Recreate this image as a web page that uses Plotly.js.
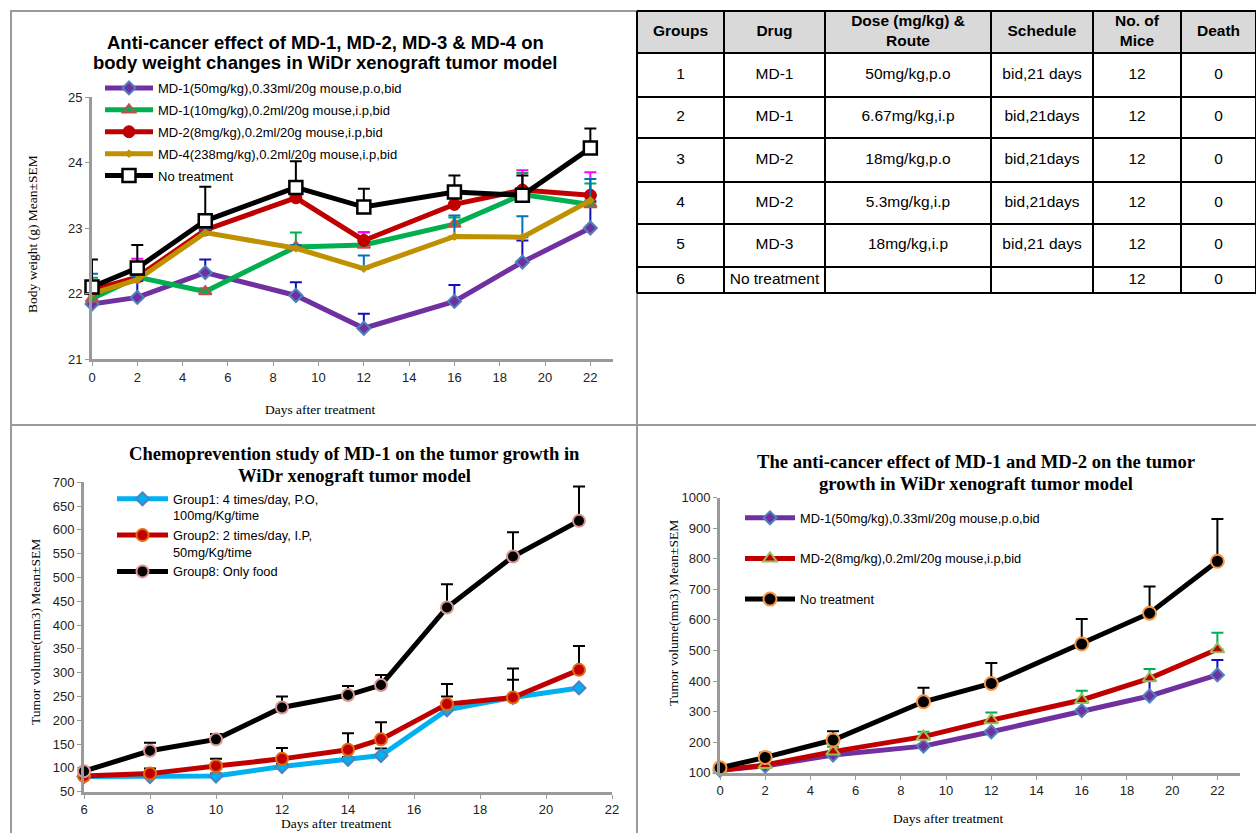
<!DOCTYPE html>
<html>
<head>
<meta charset="utf-8">
<script src="https://cdn.plot.ly/plotly-3.0.1.min.js"></script>
<style>html,body{margin:0;padding:0;background:#fff;}#chart{width:1256px;height:833px;}</style>
</head>
<body>
<div id="chart"></div>
<script>
// ---------- Data: body weight (top-left) ----------
const bwDays = [0, 2, 5, 9, 12, 16, 19, 22];
const bwNames = [
  'MD-1(50mg/kg),0.33ml/20g mouse,p.o,bid',
  'MD-1(10mg/kg),0.2ml/20g mouse,i.p,bid',
  'MD-2(8mg/kg),0.2ml/20g mouse,i.p,bid',
  'MD-4(238mg/kg),0.2ml/20g mouse,i.p,bid',
  'No treatment'
];
const bwMD1_50 = [21.84, 21.94, 22.32, 21.97, 21.47, 21.88, 22.48, 23.0];
const bwMD1_50Sem = [0.15, 0.25, 0.2, 0.2, 0.22, 0.25, 0.33, 0.4];
const bwMD1_10 = [21.92, 22.25, 22.03, 22.71, 22.74, 23.06, 23.51, 23.36];
const bwMD1_10Sem = [0.32, 0.05, 0.05, 0.22, 0.2, 0.1, 0.33, 0.32];
const bwMD2 = [22.05, 22.25, 22.97, 23.46, 22.81, 23.36, 23.58, 23.5];
const bwMD2Sem = [0.1, 0.28, 0.1, 0.1, 0.12, 0.15, 0.3, 0.35];
const bwMD4 = [22.0, 22.21, 22.93, 22.69, 22.38, 22.87, 22.86, 23.42];
const bwMD4Sem = [0.3, 0.05, 0.05, 0.05, 0.2, 0.32, 0.32, 0.33];
const bwNone = [22.1, 22.39, 23.11, 23.62, 23.32, 23.55, 23.5, 24.22];
const bwNoneSem = [0.42, 0.35, 0.52, 0.4, 0.28, 0.25, 0.3, 0.3];
const bwTitle = ['Anti-cancer effect of MD-1, MD-2, MD-3 & MD-4 on', 'body weight changes in WiDr xenograft tumor model'];

// ---------- Data: chemoprevention (bottom-left) ----------
const cpDays = [6, 8, 10, 12, 14, 15, 17, 19, 21];
const cpNames = ['Group1: 4 times/day, P.O,<br>100mg/Kg/time', 'Group2: 2 times/day, I.P,<br>50mg/Kg/time', 'Group8: Only food'];
const cpGroup1 = [82, 82, 83, 103, 118, 126, 222, 248, 268];
const cpGroup1Sem = [0, 0, 5, 5, 5, 15, 28, 37, 0];
const cpGroup2 = [83, 88, 104, 119, 138, 160, 234, 248, 306];
const cpGroup2Sem = [0, 11, 15, 23, 35, 36, 42, 61, 50];
const cpGroup8 = [93, 136, 160, 227, 253, 274, 437, 544, 619];
const cpGroup8Sem = [0, 17, 11, 23, 19, 21, 49, 51, 72];
const cpTitle = ['Chemoprevention study of MD-1 on the tumor growth in', 'WiDr xenograft tumor model'];

// ---------- Data: tumor growth (bottom-right) ----------
const tgDays = [0, 2, 5, 9, 12, 16, 19, 22];
const tgNames = ['MD-1(50mg/kg),0.33ml/20g mouse,p.o,bid', 'MD-2(8mg/kg),0.2ml/20g mouse,i.p,bid', 'No treatment'];
const tgMD1 = [108, 122, 158, 187, 234, 303, 351, 420];
const tgMD1Sem = [0, 0, 5, 5, 5, 5, 52, 49];
const tgMD2 = [108, 125, 169, 218, 272, 338, 409, 504];
const tgMD2Sem = [0, 5, 16, 16, 25, 30, 30, 54];
const tgNone = [116, 150, 207, 332, 392, 521, 622, 792];
const tgNoneSem = [0, 15, 29, 46, 67, 82, 87, 138];
const tgTitle = ['The anti-cancer effect of MD-1 and MD-2 on the tumor', 'growth in WiDr xenograft tumor model'];

const axisTitles = {
  days: 'Days after treatment',
  bodyWeight: 'Body weight (g) Mean±SEM',
  tumor: 'Tumor volume(mm3) Mean±SEM'
};

// ---------- Data: table (top-right) ----------
const tableHeaders = ['Groups', 'Drug', 'Dose (mg/kg) &<br>Route', 'Schedule', 'No. of<br>Mice', 'Death'];
const colGroups = ['1', '2', '3', '4', '5', '6'];
const colDrug = ['MD-1', 'MD-1', 'MD-2', 'MD-2', 'MD-3', 'No treatment'];
const colDose = ['50mg/kg,p.o', '6.67mg/kg,i.p', '18mg/kg,p.o', '5.3mg/kg,i.p', '18mg/kg,i.p', ''];
const colSchedule = ['bid,21 days', 'bid,21days', 'bid,21days', 'bid,21days', 'bid,21 days', ''];
const colMice = ['12', '12', '12', '12', '12', '12'];
const colDeath = ['0', '0', '0', '0', '0', '0'];

// ---------- layout helpers ----------
const W = 1256, H = 833;
const px = v => v / W;
const py = v => 1 - v / H;
const SANS = 'Arial, "Liberation Sans", sans-serif';
const SERIF = '"Times New Roman", "Liberation Serif", serif';

// table geometry (layout, in table-axis units = page pixels)
const tColEdges = [637, 724, 825, 991, 1093, 1181, 1256];
const tRowEdges = [11, 53, 97, 138, 182, 224, 267, 293];

function series(x, y, sem, name, xa, ya, lg, grp, lineColor, marker, errColor) {
  return {
    type: 'scatter', mode: 'lines+markers', x: x, y: y, name: name,
    xaxis: xa, yaxis: ya, legend: lg, legendgroup: grp,
    line: {color: lineColor, width: 5},
    marker: marker,
    error_y: {type: 'data', symmetric: false, array: sem, arrayminus: sem.map(() => 0),
              color: errColor, thickness: 2, width: 6},
    cliponaxis: false
  };
}

const traces = [
  series(bwDays, bwMD1_50, bwMD1_50Sem, bwNames[0], 'x', 'y', 'legend', 'a1', '#7030a0',
    {symbol: 'diamond', size: 10, color: '#7030a0', line: {color: '#4f81bd', width: 2}}, '#1010c0'),
  series(bwDays, bwMD1_10, bwMD1_10Sem, bwNames[1], 'x', 'y', 'legend', 'a2', '#00b050',
    {symbol: 'triangle-up', size: 11, color: '#00b050', line: {color: '#c0504d', width: 2}}, '#00b050'),
  series(bwDays, bwMD2, bwMD2Sem, bwNames[2], 'x', 'y', 'legend', 'a3', '#c00000',
    {symbol: 'circle', size: 12, color: '#c00000', line: {color: '#c00000', width: 1}}, '#ff00ff'),
  series(bwDays, bwMD4, bwMD4Sem, bwNames[3], 'x', 'y', 'legend', 'a4', '#bf9000',
    {symbol: 'diamond', size: 6, color: '#bf9000', line: {color: '#bf9000', width: 1}}, '#0070c0'),
  series(bwDays, bwNone, bwNoneSem, bwNames[4], 'x', 'y', 'legend', 'a5', '#000000',
    {symbol: 'square', size: 13, color: '#ffffff', line: {color: '#000000', width: 2.5}}, '#000000'),

  series(cpDays, cpGroup1, cpGroup1Sem, cpNames[0], 'x2', 'y2', 'legend2', 'b1', '#00b0f0',
    {symbol: 'diamond', size: 10, color: '#00b0f0', line: {color: '#4f81bd', width: 2}}, '#000000'),
  series(cpDays, cpGroup2, cpGroup2Sem, cpNames[1], 'x2', 'y2', 'legend2', 'b2', '#c00000',
    {symbol: 'circle', size: 12, color: '#c00000', line: {color: '#e46c0a', width: 2}}, '#000000'),
  series(cpDays, cpGroup8, cpGroup8Sem, cpNames[2], 'x2', 'y2', 'legend2', 'b3', '#000000',
    {symbol: 'circle', size: 12, color: '#000000', line: {color: '#d99694', width: 2}}, '#000000'),

  series(tgDays, tgMD1, tgMD1Sem, tgNames[0], 'x3', 'y3', 'legend3', 'c1', '#7030a0',
    {symbol: 'diamond', size: 10, color: '#7030a0', line: {color: '#4f81bd', width: 2}}, '#1010c0'),
  series(tgDays, tgMD2, tgMD2Sem, tgNames[1], 'x3', 'y3', 'legend3', 'c2', '#c00000',
    {symbol: 'triangle-up', size: 12, color: '#c00000', line: {color: '#9bbb59', width: 2}}, '#00b050'),
  series(tgDays, tgNone, tgNoneSem, tgNames[2], 'x3', 'y3', 'legend3', 'c3', '#000000',
    {symbol: 'circle', size: 13, color: '#000000', line: {color: '#f79646', width: 2}}, '#000000')
];

// ---------- table built from the column arrays ----------
const tableCols = [colGroups, colDrug, colDose, colSchedule, colMice, colDeath];
const colCenters = tColEdges.slice(0, -1).map((e, i) => (e + tColEdges[i + 1]) / 2);
const rowCenters = tRowEdges.slice(0, -1).map((e, i) => (e + tRowEdges[i + 1]) / 2);
traces.push({
  type: 'scatter', mode: 'text', xaxis: 'x4', yaxis: 'y4', showlegend: false, hoverinfo: 'skip',
  x: colCenters, y: colCenters.map(() => rowCenters[0]), text: tableHeaders,
  textposition: 'middle center',
  textfont: {family: SANS, size: 15.5, color: '#000', weight: 'bold'}, cliponaxis: false
});
const bodyX = [], bodyY = [], bodyT = [];
tableCols.forEach((col, c) => col.forEach((v, r) => { bodyX.push(colCenters[c]); bodyY.push(rowCenters[r + 1]); bodyT.push(v); }));
traces.push({
  type: 'scatter', mode: 'text', xaxis: 'x4', yaxis: 'y4', showlegend: false, hoverinfo: 'skip',
  x: bodyX, y: bodyY, text: bodyT, textposition: 'middle center',
  textfont: {family: SANS, size: 15.5, color: '#000'}, cliponaxis: false
});

function xAxis(domain, range, anchor) {
  return {
    domain: domain, range: range, anchor: anchor, dtick: 2, tick0: 0,
    showgrid: false, zeroline: false, showline: true, linecolor: '#9a9a9a', linewidth: 3,
    ticks: 'outside', ticklen: 4, tickcolor: '#9a9a9a', tickwidth: 1,
    tickfont: {family: SANS, size: 13, color: '#222'},
    automargin: false, fixedrange: true
  };
}
function yAxis(domain, range, anchor, dtick) {
  return {
    domain: domain, range: range, anchor: anchor, dtick: dtick,
    showgrid: false, zeroline: false, showline: true, linecolor: '#9a9a9a', linewidth: 3,
    ticks: 'outside', ticklen: 4, tickcolor: '#9a9a9a', tickwidth: 1,
    tickfont: {family: SANS, size: 13, color: '#222'},
    automargin: false, fixedrange: true
  };
}

const grey = '#9a9a9a';
const shapes = [
  {type: 'line', xref: 'paper', yref: 'paper', x0: px(11), x1: px(11), y0: py(11), y1: 0, line: {color: grey, width: 2}},
  {type: 'line', xref: 'paper', yref: 'paper', x0: px(10), x1: px(637), y0: py(11), y1: py(11), line: {color: grey, width: 2}},
  {type: 'line', xref: 'paper', yref: 'paper', x0: px(637), x1: px(637), y0: py(290), y1: 0, line: {color: grey, width: 2}},
  {type: 'line', xref: 'paper', yref: 'paper', x0: px(10), x1: 1, y0: py(425), y1: py(425), line: {color: grey, width: 2}},
  // table header fill and grid
  {type: 'rect', xref: 'x4', yref: 'y4', x0: tColEdges[0], x1: tColEdges[tColEdges.length - 1],
   y0: tRowEdges[0], y1: tRowEdges[1], fillcolor: '#d9d9d9', line: {width: 0}, layer: 'below'}
];
tRowEdges.forEach(y => shapes.push({type: 'line', xref: 'x4', yref: 'y4', x0: tColEdges[0], x1: tColEdges[tColEdges.length - 1],
  y0: y, y1: y, line: {color: '#000', width: 2}}));
tColEdges.forEach(x => shapes.push({type: 'line', xref: 'x4', yref: 'y4', x0: x, x1: x,
  y0: tRowEdges[0], y1: tRowEdges[tRowEdges.length - 1], line: {color: '#000', width: 2}}));

function note(text, x, y, font, extra) {
  return Object.assign({xref: 'paper', yref: 'paper', x: px(x), y: py(y), xanchor: 'center', yanchor: 'middle',
    showarrow: false, text: text, font: font}, extra || {});
}
const tFontA = {family: SANS, size: 18.5, color: '#000', weight: 'bold'};
const tFontB = {family: SERIF, size: 18.6, color: '#000', weight: 'bold'};
const axFont = {family: SERIF, size: 13.5, color: '#000'};
const annotations = [
  note(bwTitle[0], 325, 42, tFontA), note(bwTitle[1], 325, 63, tFontA),
  note(cpTitle[0], 354, 453, tFontB), note(cpTitle[1], 354, 475, tFontB),
  note(tgTitle[0], 976, 461, tFontB), note(tgTitle[1], 976, 483, tFontB),
  note(axisTitles.bodyWeight, 32, 234, axFont, {textangle: -90}),
  note(axisTitles.days, 320, 409, axFont),
  note(axisTitles.tumor, 35, 632, axFont, {textangle: -90}),
  note(axisTitles.days, 336, 823, axFont),
  note(axisTitles.tumor, 673, 613, axFont, {textangle: -90}),
  note(axisTitles.days, 948, 818, axFont)
];

const legendBase = {
  bgcolor: 'rgba(0,0,0,0)', borderwidth: 0, xanchor: 'left', yanchor: 'top',
  traceorder: 'grouped', itemclick: false, itemdoubleclick: false
};

const layout = {
  width: W, height: H,
  margin: {l: 0, r: 0, t: 0, b: 0},
  paper_bgcolor: '#ffffff', plot_bgcolor: 'rgba(0,0,0,0)',
  showlegend: true,
  xaxis: xAxis([px(92), px(613)], [0, 23], 'y'),
  yaxis: yAxis([py(359), py(97)], [21, 25], 'x', 1),
  xaxis2: xAxis([px(84), px(612)], [6, 22], 'y2'),
  yaxis2: yAxis([py(791.7), py(482.3)], [50, 700], 'x2', 50),
  xaxis3: xAxis([px(720), px(1240)], [0, 23], 'y3'),
  yaxis3: yAxis([py(772.7), py(497.7)], [100, 1000], 'x3', 100),
  xaxis4: {domain: [px(630), 1], range: [630, 1256], anchor: 'y4', visible: false, fixedrange: true},
  yaxis4: {domain: [py(300), py(5)], range: [300, 5], anchor: 'x4', visible: false, fixedrange: true},
  legend: Object.assign({}, legendBase, {x: px(100), y: py(73), tracegroupgap: 2, itemwidth: 48,
    font: {family: SANS, size: 13, color: '#000'}}),
  legend2: Object.assign({}, legendBase, {x: px(112), y: py(484), tracegroupgap: 0, itemwidth: 51, valign: 'top',
    font: {family: SANS, size: 12.8, color: '#000'}}),
  legend3: Object.assign({}, legendBase, {x: px(740), y: py(503), tracegroupgap: 21, itemwidth: 50,
    font: {family: SANS, size: 12.8, color: '#000'}}),
  shapes: shapes,
  annotations: annotations
};

Plotly.newPlot('chart', traces, layout, {displayModeBar: false});
</script>
</body>
</html>
